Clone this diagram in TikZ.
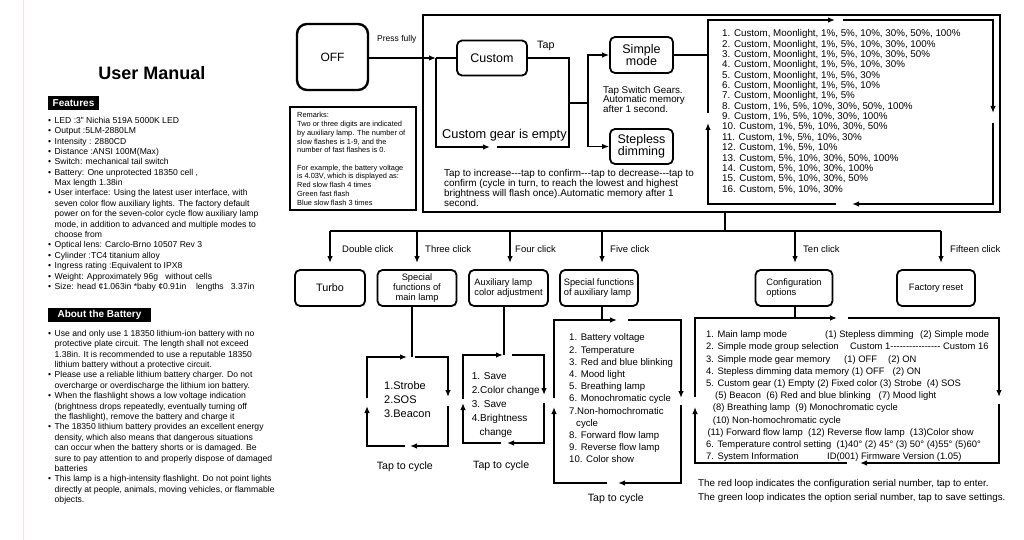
\documentclass[tikz,border=0pt]{standalone}
\usepackage{fontspec}
\setmainfont{Liberation Sans}
\usetikzlibrary{arrows.meta}

\begin{document}
\begin{tikzpicture}[x=1pt, y=-1pt,
  line/.style={line width=1.3pt},
  arr/.style={line width=1.3pt, -{Latex[length=7pt,width=5.5pt]}},
  mbox/.style={draw, line width=1.8pt, rounded corners=5pt, align=center, inner sep=1pt, font=\fontsize{9.3}{9.7}\selectfont},
  txt/.style={anchor=north west, inner sep=0pt, align=left},
  tag/.style={fill=black, text=white, inner sep=0pt, minimum height=14pt, font=\bfseries\fontsize{10}{11}\selectfont}]
\fill[white] (0,0) rectangle (1024,540);
\useasboundingbox (0,0) rectangle (1024,540);
\draw[red!12, line width=0.8pt] (23,0) -- (23,540);

% left page
\node[inner sep=0pt, font=\bfseries\fontsize{18}{20}\selectfont] (title) at (152,73) {User Manual};
\node[tag, minimum width=51pt] (feat) at (73.5,103) {Features};
\node[txt, font=\fontsize{8.6}{10.38}\selectfont] (featlist) at (48,116.9) {%
\makebox[6.5pt][l]{\textbullet}LED :3" Nichia 519A 5000K LED\\
\makebox[6.5pt][l]{\textbullet}Output :5LM-2880LM\\
\makebox[6.5pt][l]{\textbullet}Intensity : 2880CD\\
\makebox[6.5pt][l]{\textbullet}Distance :ANSI 100M(Max)\\
\makebox[6.5pt][l]{\textbullet}Switch: mechanical tail switch\\
\makebox[6.5pt][l]{\textbullet}Battery: One unprotected 18350 cell ,\\
\hspace*{6.5pt}Max length 1.38in\\
\makebox[6.5pt][l]{\textbullet}User interface: Using the latest user interface, with\\
\hspace*{6.5pt}seven color flow auxiliary lights. The factory default\\
\hspace*{6.5pt}power on for the seven-color cycle flow auxiliary lamp\\
\hspace*{6.5pt}mode, in addition to advanced and multiple modes to\\
\hspace*{6.5pt}choose from\\
\makebox[6.5pt][l]{\textbullet}Optical lens: Carclo-Brno 10507 Rev 3\\
\makebox[6.5pt][l]{\textbullet}Cylinder :TC4 titanium alloy\\
\makebox[6.5pt][l]{\textbullet}Ingress rating :Equivalent to IPX8\\
\makebox[6.5pt][l]{\textbullet}Weight: Approximately 96g\ \ \ without cells\\
\makebox[6.5pt][l]{\textbullet}Size: head ¢1.063in *baby ¢0.91in\ \ \ \ lengths\ \ \ 3.37in};
\node[tag, minimum width=103pt] (batt) at (99.5,315) {About\ the\ Battery};
\node[txt, font=\fontsize{8.6}{10.39}\selectfont] (battlist) at (48,329.9) {%
\makebox[6.5pt][l]{\textbullet}Use and only use 1 18350 lithium-ion battery with no\\
\hspace*{6.5pt}protective plate circuit. The length shall not exceed\\
\hspace*{6.5pt}1.38in. It is recommended to use a reputable 18350\\
\hspace*{6.5pt}lithium battery without a protective circuit.\\
\makebox[6.5pt][l]{\textbullet}Please use a reliable lithium battery charger. Do not\\
\hspace*{6.5pt}overcharge or overdischarge the lithium ion battery.\\
\makebox[6.5pt][l]{\textbullet}When the flashlight shows a low voltage indication\\
\hspace*{6.5pt}(brightness drops repeatedly, eventually turning off\\
\hspace*{6.5pt}the flashlight), remove the battery and charge it\\
\makebox[6.5pt][l]{\textbullet}The 18350 lithium battery provides an excellent energy\\
\hspace*{6.5pt}density, which also means that dangerous situations\\
\hspace*{6.5pt}can occur when the battery shorts or is damaged. Be\\
\hspace*{6.5pt}sure to pay attention to and properly dispose of damaged\\
\hspace*{6.5pt}batteries\\
\makebox[6.5pt][l]{\textbullet}This lamp is a high-intensity flashlight. Do not point lights\\
\hspace*{6.5pt}directly at people, animals, moving vehicles, or flammable\\
\hspace*{6.5pt}objects.};

% top: off, custom, modes
\node[mbox, line width=2.4pt, rounded corners=10pt, minimum width=71pt, minimum height=66pt, font=\fontsize{12}{14}\selectfont] (off) at (332.5,57) {OFF};
\node[draw, line width=2pt, minimum width=126pt, minimum height=103pt] (remarks) at (353,158.5) {};
\node[txt, font=\fontsize{7.4}{8.75}\selectfont] (remtext) at (297,112.4) {Remarks:\\
Two or three digits are indicated\\
by auxiliary lamp. The number of\\
slow flashes is 1-9, and the\\
number of fast flashes is 0.\\[8.5pt]
For example, the battery voltage\\
is 4.03V, which is displayed as:\\
Red slow flash 4 times\\
Green fast flash\\
Blue slow flash 3 times};
\node[draw, line width=1.5pt, minimum width=577pt, minimum height=197pt] (frame) at (711.5,113.5) {};
\node[mbox, minimum width=70pt, minimum height=35pt, font=\fontsize{12.5}{14}\selectfont] (custom) at (492,58) {Custom};
\node[mbox, minimum width=63pt, minimum height=36pt, font=\fontsize{12.5}{11.5}\selectfont] (simple) at (641.5,55) {Simple\\mode};
\node[mbox, minimum width=63pt, minimum height=35pt, font=\fontsize{12.5}{12.5}\selectfont] (stepless) at (641.5,146.5) {Stepless\\dimming};
\node[txt, font=\fontsize{8.5}{10}\selectfont] (press) at (377,35) {Press fully};
\node[txt, font=\fontsize{10.7}{12}\selectfont] (tap) at (537,40.5) {Tap};
\node[txt, font=\fontsize{12.8}{14}\selectfont] (empty) at (442,129.4) {Custom gear is empty};
\node[txt, font=\fontsize{9.8}{9.7}\selectfont] (switch) at (603,85.8) {Tap Switch Gears.\\Automatic memory\\after 1 second.};
\node[txt, font=\fontsize{9.9}{10}\selectfont] (increase) at (444,169.6) {Tap to increase-{}-{}-tap to confirm-{}-{}-tap to decrease-{}-{}-tap to\\
confirm (cycle in turn, to reach the lowest and highest\\
brightness will flash once).Automatic memory after 1\\
second.};
\node[txt, font=\fontsize{9.8}{10.35}\selectfont] (modes) at (722,29.5) {%
1. Custom, Moonlight, 1\%, 5\%, 10\%, 30\%, 50\%, 100\%\\
2. Custom, Moonlight, 1\%, 5\%, 10\%, 30\%, 100\%\\
3. Custom, Moonlight, 1\%, 5\%, 10\%, 30\%, 50\%\\
4. Custom, Moonlight, 1\%, 5\%, 10\%, 30\%\\
5. Custom, Moonlight, 1\%, 5\%, 30\%\\
6. Custom, Moonlight, 1\%, 5\%, 10\%\\
7. Custom, Moonlight, 1\%, 5\%\\
8. Custom, 1\%, 5\%, 10\%, 30\%, 50\%, 100\%\\
9. Custom, 1\%, 5\%, 10\%, 30\%, 100\%\\
10. Custom, 1\%, 5\%, 10\%, 30\%, 50\%\\
11. Custom, 1\%, 5\%, 10\%, 30\%\\
12. Custom, 1\%, 5\%, 10\%\\
13. Custom, 5\%, 10\%, 30\%, 50\%, 100\%\\
14. Custom, 5\%, 10\%, 30\%, 100\%\\
15. Custom, 5\%, 10\%, 30\%, 50\%\\
16. Custom, 5\%, 10\%, 30\%};

\coordinate (cj) at (436,58);
\coordinate (ge) at (490,147);
\coordinate (gr) at (497,147);
\coordinate (cr) at (569,58);
\coordinate (sj) at (569,103);
\coordinate (sp) at (588,103);
\coordinate (lst) at (708,55);
\draw[arr] (off.east |- cj) -- (cj);
\draw[line] (cj) -- (custom.west);
\draw[arr] (cj) |- (ge);
\draw[line] (gr) -| (cr) -- (custom.east);
\draw[line] (sj) -- (sp);
\draw[arr] (sp) |- (simple.west);
\draw[arr] (sp) |- (stepless.west);
\draw[line] (simple.east) -- (lst);
% gear list loop
\draw[arr] (708,113) |- (835,20);
\draw[arr] (843,20) -| (993,113);
\draw[arr] (993,123) |- (852,204);
\draw[arr] (836,204) -| (708,123);

% clicks
\coordinate (bus) at (725,231);
\coordinate (b1) at (330,231);
\coordinate (b2) at (417,231);
\coordinate (b3) at (510,231);
\coordinate (b4) at (602,231);
\coordinate (b5) at (795,231);
\coordinate (b6) at (941,231);
\draw[line] (frame.south -| bus) -- (bus);
\draw[line] (b1) -- (b6);
\draw[arr] (b1) -- ++(0,32);
\draw[arr] (b2) -- ++(0,32);
\draw[arr] (b3) -- ++(0,32);
\draw[arr] (b4) -- ++(0,32);
\draw[arr] (b5) -- ++(0,32);
\draw[arr] (b6) -- ++(0,32);
\node[txt, font=\fontsize{9.5}{11}\selectfont] at (342,245.6) {Double click};
\node[txt, font=\fontsize{9.5}{11}\selectfont] at (425,245.6) {Three click};
\node[txt, font=\fontsize{9.5}{11}\selectfont] at (515,245.6) {Four click};
\node[txt, font=\fontsize{9.5}{11}\selectfont] at (610,245.6) {Five click};
\node[txt, font=\fontsize{9.5}{11}\selectfont] at (803,245.6) {Ten click};
\node[txt, font=\fontsize{9.5}{11}\selectfont] at (950,245.6) {Fifteen click};

\node[mbox, minimum width=70pt, minimum height=36pt, font=\fontsize{10.8}{12}\selectfont] (turbo) at (330,288) {Turbo};
\node[mbox, minimum width=79pt, minimum height=36pt] (mainsp) at (417,288) {Special\\functions of\\main lamp};
\node[mbox, minimum width=79pt, minimum height=36pt, align=left] (auxcol) at (508.5,288) {Auxiliary lamp\\color adjustment};
\node[mbox, minimum width=78pt, minimum height=36pt, align=left] (auxsp) at (599,288) {Special functions\\of auxiliary lamp};
\node[mbox, minimum width=77pt, minimum height=36pt, align=left] (config) at (794,288) {Configuration\\options};
\node[mbox, minimum width=78pt, minimum height=36pt] (reset) at (936,288) {Factory reset};

% main lamp loop
\coordinate (ml) at (412,357);
\draw[line] (ml |- mainsp.south) -- (ml);
\draw[arr] (367,398) |- (407,357);
\draw[arr] (415,357) -| (448,397);
\draw[arr] (448,406) |- (410,446);
\draw[arr] (405,446) -| (367,406);
\node[txt, font=\fontsize{11}{14}\selectfont] at (384,381) {1.Strobe\\2.SOS\\3.Beacon};
\node[txt, font=\fontsize{10.6}{12}\selectfont] at (376.7,461.2) {Tap to cycle};

% auxiliary colour loop
\coordinate (al) at (504,355);
\draw[line] (al |- auxcol.south) -- (al);
\draw[arr] (463,399) |- (503,355);
\draw[arr] (512,355) -| (544,395);
\draw[arr] (544,403) |- (507,443);
\draw[arr] (501,443) -| (463,403);
\node[txt, font=\fontsize{10}{14}\selectfont] at (471.7,372.4) {1. Save\\2.Color change\\3. Save\\4.Brightness\\\hspace*{7.6pt}change};
\node[txt, font=\fontsize{10.6}{12}\selectfont] at (473,460.2) {Tap to cycle};

% auxiliary functions loop
\coordinate (sl) at (602,320);
\draw[line] (sl |- auxsp.south) -- (sl);
\draw[arr] (554,398) |- (617,320);
\draw[arr] (628,320) -| (681,398);
\draw[arr] (681,405) |- (618,483);
\draw[arr] (607,483) -| (554,407);
\node[txt, font=\fontsize{9.6}{12.2}\selectfont] at (569,333.8) {1. Battery voltage\\
2. Temperature\\
3. Red and blue blinking\\
4. Mood light\\
5. Breathing lamp\\
6. Monochromatic cycle\\
7.Non-homochromatic\\
\hspace*{7pt}cycle\\
8. Forward flow lamp\\
9. Reverse flow lamp\\
10. Color show};
\node[txt, font=\fontsize{10.6}{12}\selectfont] at (587.7,493.2) {Tap to cycle};

% configuration loop
\coordinate (cl) at (795,318);
\draw[line] (cl |- config.south) -- (cl);
\draw[arr] (695,397) |- (837,318);
\draw[arr] (848,318) -| (999,397);
\draw[arr] (999,404) |- (860,463);
\draw[arr] (847,463) -| (695,407);
\node[txt, font=\fontsize{9.4}{12.2}\selectfont] at (706,330.6) {%
\makebox[119pt][l]{1. Main lamp mode}\makebox[95pt][l]{(1) Stepless dimming}(2) Simple mode\\
\makebox[144pt][l]{2. Simple mode group selection}Custom 1-{}-{}-{}-{}-{}-{}-{}-{}-{}-{}-{}-{}-{}-{}-{}- Custom 16\\
\makebox[138pt][l]{3. Simple mode gear memory}\makebox[44pt][l]{(1) OFF}(2) ON\\
4. Stepless dimming data memory\ (1) OFF\hspace{8pt}(2) ON\\
5. Custom gear (1) Empty (2) Fixed color (3) Strobe\ \ (4) SOS\\
\hspace*{9pt}(5) Beacon\ \ (6) Red and blue blinking\ \ \ (7) Mood light\\
\hspace*{6.7pt}(8) Breathing lamp\ \ (9) Monochromatic cycle\\
\hspace*{6.7pt}(10) Non-homochromatic cycle\\
\hspace*{1.3pt}(11) Forward flow lamp\ \ (12) Reverse flow lamp\ \ (13)Color show\\
6. Temperature control setting\ \ (1)40° (2) 45° (3) 50° (4)55° (5)60°\\
\makebox[121pt][l]{7. System Information}ID(001) Firmware Version (1.05)};
\node[txt, font=\fontsize{9.8}{14}\selectfont] at (698,479.4) {The red loop indicates the configuration serial number, tap to enter.\\
The green loop indicates the option serial number, tap to save settings.};
\end{tikzpicture}
\end{document}
